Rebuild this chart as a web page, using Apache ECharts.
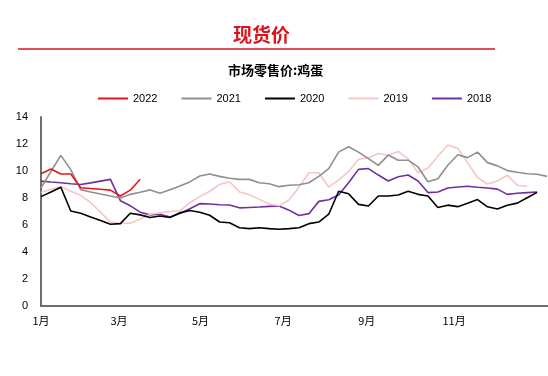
<!DOCTYPE html>
<html><head><meta charset="utf-8">
<script src="https://cdn.jsdelivr.net/npm/echarts@6/dist/echarts.min.js"></script>
<style>html,body{margin:0;padding:0;background:#fff}#c{width:548px;height:376px}</style>
</head><body><div id="c"></div>
<script>
// Weekly data: index = week number from start of year
const seriesNames = ['2022', '2021', '2020', '2019', '2018'];

const v2022 = [9.8, 10.15, 9.78, 9.78, 8.76, 8.7, 8.65, 8.58, 8.15, 8.58, 9.39];

const v2021 = [8.76, 9.96, 11.16, 10.1, 8.62, 8.45, 8.3, 8.15, 8.0, 8.27, 8.42, 8.6, 8.35, 8.62, 8.89,
  9.19, 9.63, 9.78, 9.6, 9.46, 9.38, 9.38, 9.13, 9.06, 8.84, 8.94, 8.98, 9.13, 9.6, 10.18,
  11.4, 11.8, 11.4, 10.92, 10.42, 11.18, 10.8, 10.8, 10.3, 9.2, 9.43, 10.43, 11.2, 10.99, 11.4,
  10.62, 10.38, 10.03, 9.91, 9.8, 9.76, 9.6];

const v2020 = [8.1, 8.45, 8.8, 7.04, 6.87, 6.6, 6.33, 6.06, 6.1, 6.87, 6.75, 6.56, 6.67, 6.56, 6.9,
  7.07, 6.95, 6.72, 6.22, 6.17, 5.8, 5.73, 5.8, 5.73, 5.68, 5.73, 5.8, 6.1, 6.22, 6.8,
  8.5, 8.32, 7.53, 7.41, 8.15, 8.15, 8.22, 8.5, 8.27, 8.15, 7.3, 7.47, 7.36, 7.62, 7.88,
  7.35, 7.18, 7.46, 7.62, 8.02, 8.42];

const v2019 = [8.4, 8.65, 8.85, 8.5, 8.2, 7.65, 6.95, 6.2, 6.12, 6.13, 6.45, 6.8, 6.9, 7.0, 7.05,
  7.65, 8.1, 8.5, 9.0, 9.2, 8.45, 8.25, 7.9, 7.55, 7.42, 7.85, 8.8, 9.87, 9.87, 8.82,
  9.32, 9.97, 10.87, 10.99, 11.29, 11.17, 11.45, 10.9, 9.87, 10.22, 11.1, 11.92, 11.67, 10.6, 9.52,
  9.03, 9.26, 9.69, 8.95, 8.85];

const v2018 = [9.25, 9.18, 9.13, 9.06, 9.0, 9.12, 9.25, 9.38, 7.8, 7.42, 6.95, 6.75, 6.8, 6.6, 6.85,
  7.2, 7.58, 7.55, 7.5, 7.48, 7.27, 7.3, 7.33, 7.38, 7.41, 7.1, 6.7, 6.84, 7.75, 7.87,
  8.22, 9.13, 10.12, 10.18, 9.7, 9.26, 9.58, 9.7, 9.26, 8.4, 8.44, 8.74, 8.82, 8.87, 8.8,
  8.74, 8.66, 8.27, 8.35, 8.4, 8.44];

// Month tick labels and their positions in week units
const monthLabels = ['1月', '3月', '5月', '7月', '9月', '11月'];
const monthPos = [0, 7.86, 16.08, 24.4, 32.83, 41.63];

const yTicks = [0, 2, 4, 6, 8, 10, 12, 14];

const allValues = [v2022, v2021, v2020, v2019, v2018];
const colors = ['#e3161c', '#8f8f8f', '#000000', '#f5c6c6', '#7030a0'];

const chart = echarts.init(document.getElementById('c'), null, {renderer: 'canvas'});
const option = {
  animation: false,
  backgroundColor: '#fff',
  title: [
    {text: '现货价', left: 228, top: 20,
     textStyle: {fontFamily: 'Noto Sans CJK SC', fontWeight: 'bold', fontSize: 19, color: '#d9141b'}},
    {text: '市场零售价:鸡蛋', left: 223, top: 59,
     textStyle: {fontFamily: 'Noto Sans CJK SC', fontWeight: 'bold', fontSize: 13, color: '#000'}}
  ],
  graphic: [
    {type: 'line', shape: {x1: 18, y1: 49, x2: 495, y2: 49}, style: {stroke: '#d9141b', lineWidth: 1.5}}
  ],
  legend: {
    top: 88, left: 93, itemWidth: 30, itemHeight: 2, itemGap: 24, icon: 'rect',
    textStyle: {fontFamily: 'Liberation Sans, Arial', fontSize: 11, color: '#000'},
    data: seriesNames
  },
  grid: {left: 41, right: 0, top: 117, bottom: 70},
  xAxis: {
    type: 'value', min: 0, max: 51.1,
    splitLine: {show: false},
    axisTick: {show: false},
    axisLine: {show: true, lineStyle: {color: '#6e6e6e', width: 2}},
    axisLabel: {
      customValues: monthPos,
      margin: 9,
      fontFamily: 'Noto Sans CJK SC', fontSize: 11, color: '#000',
      formatter: function (v) {
        let best = 0;
        for (let i = 0; i < monthPos.length; i++) {
          if (Math.abs(monthPos[i] - v) < Math.abs(monthPos[best] - v)) best = i;
        }
        return monthLabels[best];
      }
    }
  },
  yAxis: {
    type: 'value', min: yTicks[0], max: yTicks[yTicks.length - 1], interval: 2,
    splitLine: {show: false},
    axisTick: {show: false},
    axisLine: {show: true, lineStyle: {color: '#6e6e6e', width: 2}},
    axisLabel: {margin: 13, fontFamily: 'Liberation Sans, Arial', fontSize: 11, color: '#000'}
  },
  series: seriesNames.map(function (name, k) {
    return {
      name: name, type: 'line', symbol: 'none', showSymbol: false,
      z: k === 0 ? 10 : 5 - k,
      lineStyle: {color: colors[k], width: 1.6},
      itemStyle: {color: colors[k]},
      data: allValues[k].map(function (v, i) { return [i, v]; })
    };
  })
};
chart.setOption(option);
</script>
</body></html>
